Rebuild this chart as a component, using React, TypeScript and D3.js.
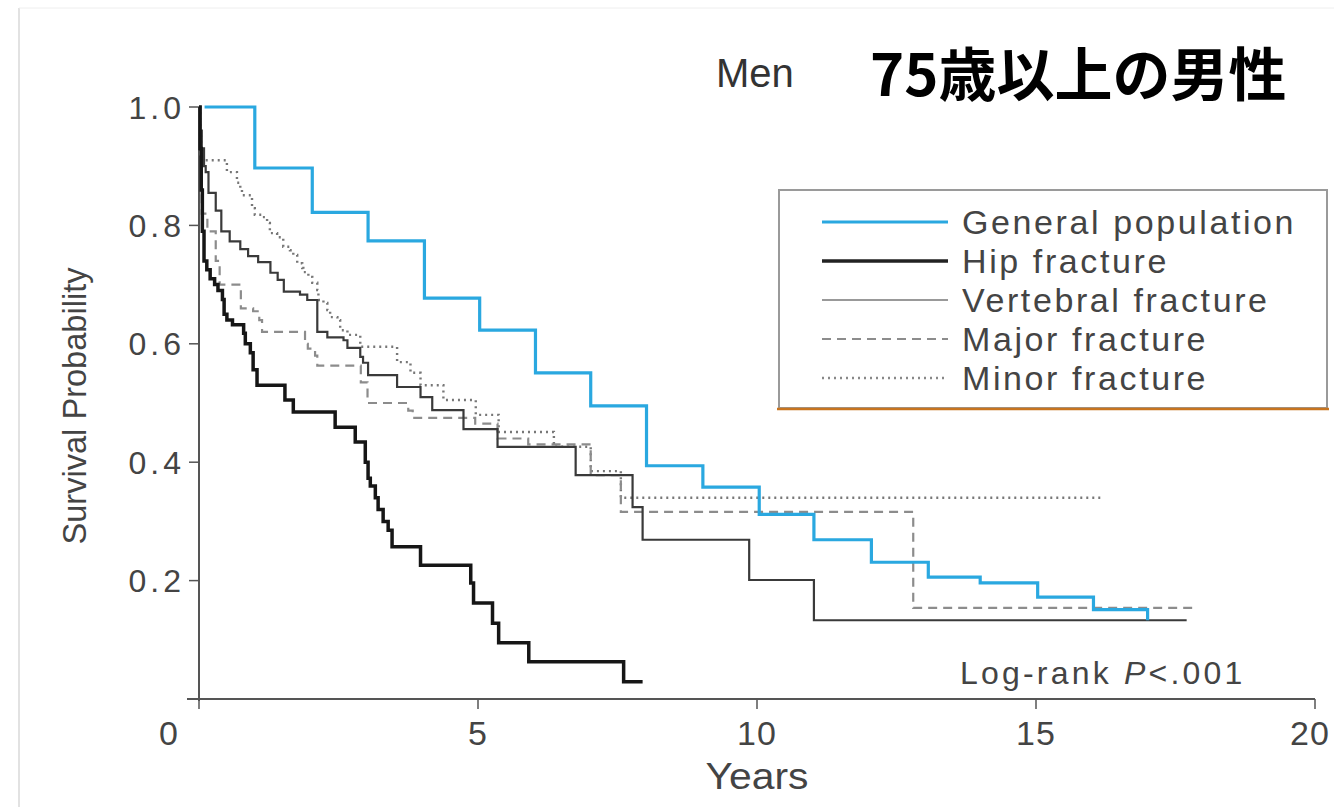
import * as d3 from 'd3';

// [years, survival] step points; last point marks where the curve ends
const generalPopulation: [number, number][] = [
  [0.1, 1.0], [1.0, 0.897], [2.03, 0.822], [3.03, 0.774], [4.04, 0.677], [5.03, 0.623],
  [6.03, 0.551], [7.02, 0.495], [8.02, 0.394], [9.03, 0.358], [10.04, 0.312],
  [11.02, 0.269], [12.05, 0.231], [13.07, 0.206], [14.0, 0.196], [15.03, 0.172],
  [16.03, 0.151], [17.0, 0.133], [17.0, 0.133],
];

const hipFracture: [number, number][] = [
  [0, 1.0], [0.02, 0.93], [0.04, 0.86], [0.06, 0.79], [0.09, 0.74], [0.14, 0.725],
  [0.2, 0.71], [0.28, 0.7], [0.34, 0.69], [0.42, 0.675], [0.45, 0.65], [0.5, 0.64],
  [0.6, 0.632], [0.8, 0.618], [0.83, 0.6], [0.92, 0.585], [0.97, 0.556], [1.04, 0.53],
  [1.54, 0.505], [1.69, 0.485], [2.44, 0.459], [2.8, 0.434], [2.98, 0.4], [3.03, 0.373],
  [3.07, 0.36], [3.16, 0.34], [3.21, 0.32], [3.3, 0.3], [3.39, 0.285], [3.46, 0.257],
  [3.97, 0.226], [4.87, 0.196], [4.92, 0.162], [5.26, 0.128], [5.37, 0.095],
  [5.91, 0.063], [7.61, 0.029], [7.95, 0.029],
];

const vertebralFracture: [number, number][] = [
  [0, 1.0], [0.02, 0.96], [0.05, 0.93], [0.09, 0.9], [0.12, 0.89], [0.17, 0.855],
  [0.3, 0.825], [0.4, 0.79], [0.55, 0.773], [0.74, 0.76], [0.88, 0.748], [1.06, 0.738],
  [1.28, 0.72], [1.41, 0.708], [1.52, 0.688], [1.81, 0.683], [1.94, 0.674], [2.12, 0.62],
  [2.3, 0.611], [2.59, 0.606], [2.66, 0.593], [2.89, 0.578], [2.94, 0.568], [3.03, 0.547],
  [3.55, 0.527], [3.97, 0.51], [4.18, 0.488], [4.74, 0.456], [5.35, 0.426], [6.75, 0.378],
  [7.77, 0.324], [7.95, 0.269], [9.86, 0.201], [11.02, 0.133], [17.7, 0.133],
];

const majorFracture: [number, number][] = [
  [0, 1.0], [0.02, 0.92], [0.05, 0.82], [0.15, 0.79], [0.3, 0.74], [0.37, 0.7],
  [0.75, 0.66], [0.97, 0.655], [1.08, 0.64], [1.13, 0.62], [1.9, 0.6], [1.95, 0.592],
  [2.08, 0.58], [2.12, 0.563], [2.9, 0.535], [3.02, 0.5], [3.75, 0.487], [3.83, 0.475],
  [4.95, 0.465], [5.35, 0.44], [5.9, 0.43], [7.02, 0.378], [7.56, 0.316], [12.8, 0.154],
  [17.9, 0.154],
];

const minorFracture: [number, number][] = [
  [0, 1.0], [0.02, 0.95], [0.04, 0.91], [0.5, 0.89], [0.68, 0.872], [0.74, 0.86],
  [0.77, 0.851], [0.95, 0.829], [1.0, 0.818], [1.13, 0.814], [1.22, 0.804], [1.27, 0.787],
  [1.4, 0.78], [1.51, 0.764], [1.63, 0.758], [1.69, 0.75], [1.76, 0.736], [1.85, 0.728],
  [1.87, 0.721], [1.96, 0.713], [2.03, 0.703], [2.12, 0.691], [2.14, 0.674], [2.23, 0.669],
  [2.3, 0.657], [2.35, 0.645], [2.48, 0.64], [2.53, 0.623], [2.66, 0.615], [2.89, 0.595],
  [3.55, 0.569], [3.79, 0.551], [3.97, 0.53], [4.38, 0.505], [4.96, 0.48], [5.37, 0.451],
  [6.36, 0.426], [7.02, 0.385], [7.56, 0.34], [16.2, 0.34],
];

const xTicks = [0, 5, 10, 15, 20];
const yTicks = [0, 0.2, 0.4, 0.6, 0.8, 1.0];

const series = [
  { name: 'General population', data: generalPopulation, color: '#2aa8e0', legendColor: '#2aa8e0', width: 3.2, dash: '' },
  { name: 'Hip fracture', data: hipFracture, color: '#161616', legendColor: '#222', width: 3.5, dash: '' },
  { name: 'Vertebral fracture', data: vertebralFracture, color: '#3a3a3a', legendColor: '#999', width: 2.2, dash: '' },
  { name: 'Major fracture', data: majorFracture, color: '#8c8c8c', legendColor: '#8c8c8c', width: 2.2, dash: '9,6' },
  { name: 'Minor fracture', data: minorFracture, color: '#777', legendColor: '#888', width: 2.4, dash: '2,4' },
];

const width = 1334;
const height = 807;

export default function App() {
  const x = d3.scaleLinear().domain([0, 20]).range([199, 1315]);
  const y = d3.scaleLinear().domain([0, 1]).range([699, 107]);

  const line = d3.line<[number, number]>()
    .x(d => x(d[0]))
    .y(d => y(d[1]))
    .curve(d3.curveStepAfter);

  const font = '"Liberation Sans", Arial, sans-serif';
  const axisColor = '#555';
  const textColor = '#444';

  return (
    <svg width={width} height={height} style={{ position: 'absolute', left: 0, top: 0, background: '#fff' }}>
      {/* slide frame */}
      <line x1={19} x2={19} y1={8} y2={height} stroke="#d8d8d8" strokeWidth={1.5} />
      <line x1={19} x2={width} y1={8} y2={8} stroke="#eee" strokeWidth={1} />

      {/* titles */}
      <text x={716} y={87} style={{ font: `40px ${font}`, fill: '#333' }}>Men</text>
      <text x={870} y={96} style={{ font: `bold 58px "Noto Sans CJK JP", sans-serif`, fill: '#000' }}>75歳以上の男性</text>

      {/* y axis */}
      <line x1={x(0)} x2={x(0)} y1={y(1)} y2={y(0) + 2} stroke={axisColor} strokeWidth={2} />
      {yTicks.map(t => (
        <g key={t} transform={`translate(${x(0)}, ${y(t)})`}>
          <line x1={-10} x2={0} stroke={axisColor} strokeWidth={1.5} />
          {t > 0 && (
            <text x={-14} dy="0.36em" style={{ textAnchor: 'end', font: `32px ${font}`, fill: textColor, letterSpacing: '4px' }}>
              {t.toFixed(1)}
            </text>
          )}
        </g>
      ))}

      {/* x axis */}
      <line x1={x(0) - 12} x2={x(20)} y1={y(0)} y2={y(0)} stroke={axisColor} strokeWidth={2} />
      {xTicks.map(t => (
        <g key={t} transform={`translate(${x(t)}, ${y(0)})`}>
          <line y1={0} y2={10} stroke={axisColor} strokeWidth={1.5} />
          <text x={t === 0 ? -30 : t === 20 ? -5 : 0} y={46}
            style={{ textAnchor: 'middle', font: `34px ${font}`, fill: textColor, letterSpacing: '1px' }}>
            {t}
          </text>
        </g>
      ))}

      <text x={757} y={789} textLength={103} lengthAdjust="spacingAndGlyphs"
        style={{ textAnchor: 'middle', font: `36px ${font}`, fill: textColor }}>Years</text>
      <text transform={`translate(86, 406) rotate(-90)`} textLength={277} lengthAdjust="spacingAndGlyphs"
        style={{ textAnchor: 'middle', font: `33px ${font}`, fill: textColor }}>
        Survival Probability
      </text>

      {/* curves */}
      {series.slice().reverse().map(s => (
        <path key={s.name} d={line(s.data) || ''} fill="none" stroke={s.color} strokeWidth={s.width}
          strokeDasharray={s.dash || undefined} />
      ))}

      {/* legend */}
      <rect x={779} y={190} width={548} height={218} fill="#fff" stroke="#9a9a9a" strokeWidth={2} />
      <line x1={777} x2={1329} y1={409} y2={409} stroke="#c8741f" strokeWidth={2.5} />
      {series.map((s, i) => {
        const ly = 222 + i * 39;
        return (
          <g key={s.name}>
            <line x1={822} x2={948} y1={ly} y2={ly} stroke={s.legendColor} strokeWidth={s.width}
              strokeDasharray={s.dash || undefined} />
            <text x={962} y={ly + 12} style={{ font: `34px ${font}`, fill: textColor, letterSpacing: '2.6px' }}>{s.name}</text>
          </g>
        );
      })}

      <text x={960} y={684} style={{ font: `32px ${font}`, fill: textColor, letterSpacing: '3.2px' }}>
        Log-rank <tspan style={{ fontStyle: 'italic' }}>P</tspan>&lt;.001
      </text>
    </svg>
  );
}
